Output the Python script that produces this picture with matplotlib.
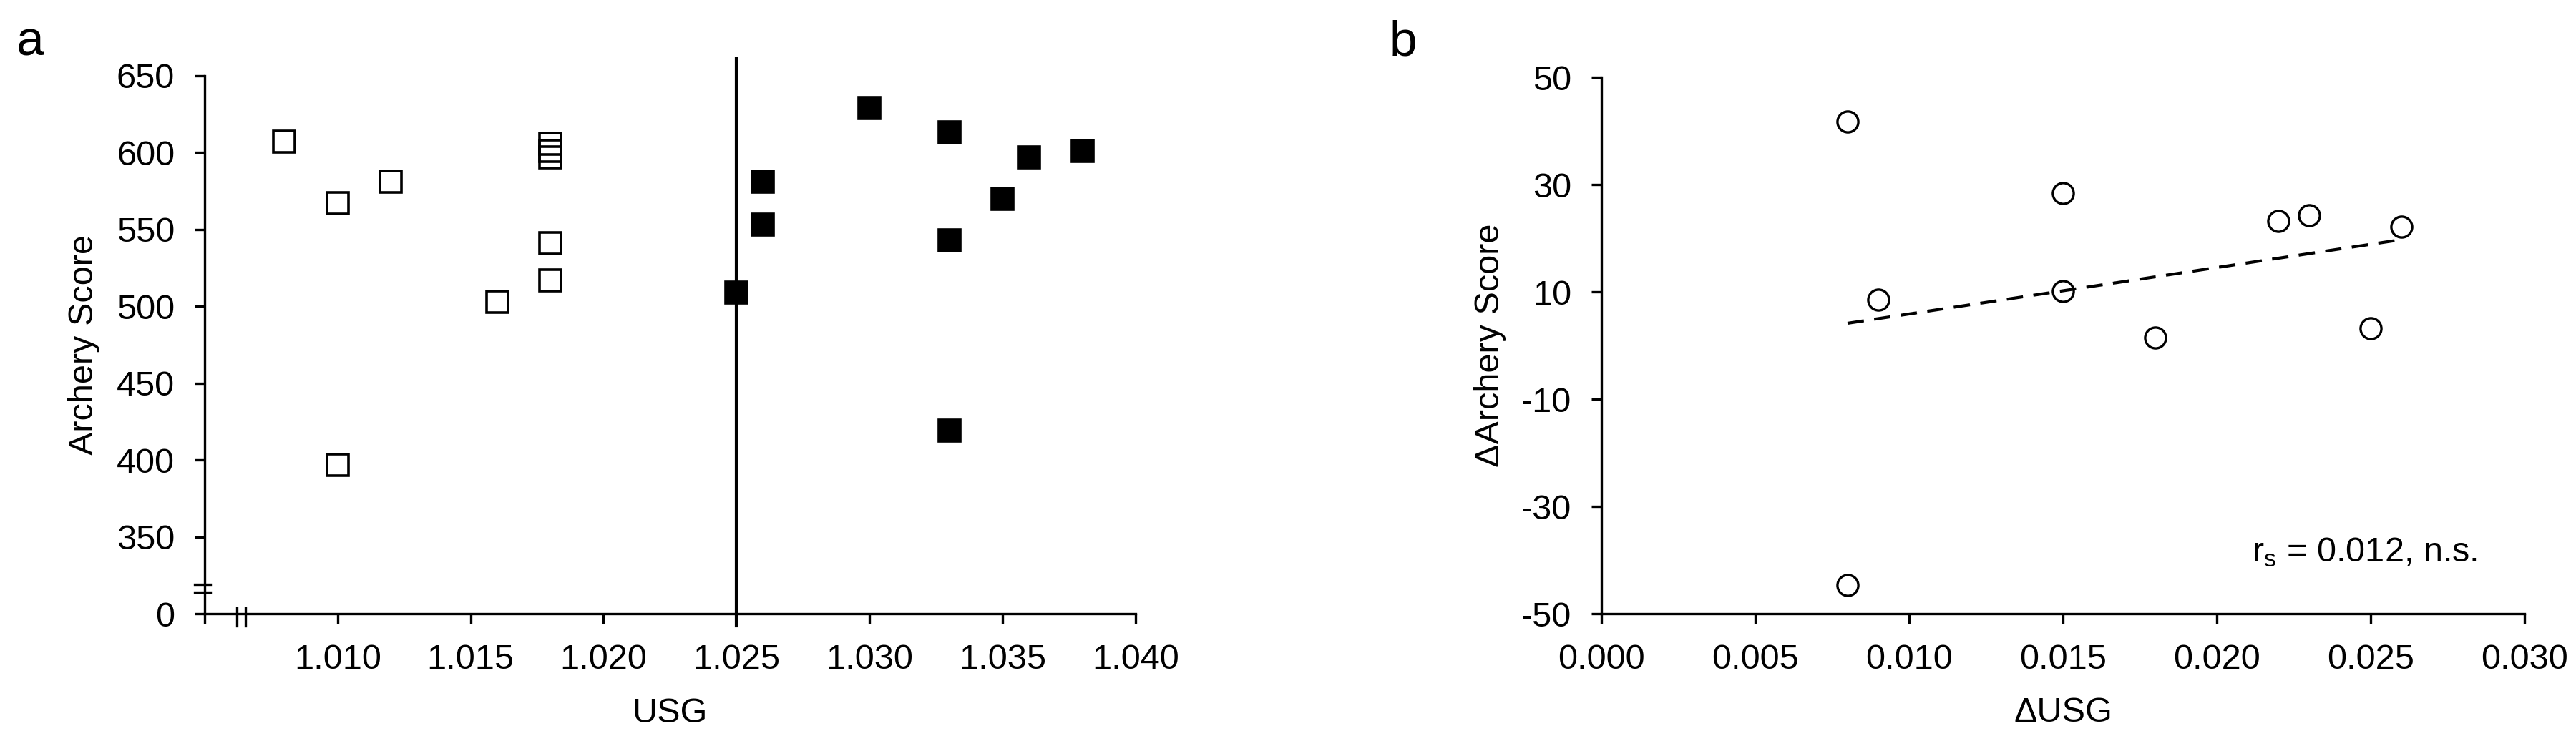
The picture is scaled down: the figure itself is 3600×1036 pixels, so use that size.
"""Two-panel figure: archery score vs USG (a) and change scores (b)."""

import matplotlib

matplotlib.use("Agg")
import matplotlib.pyplot as plt
import numpy as np

plt.rcParams["font.family"] = ["Liberation Sans", "DejaVu Sans"]
plt.rcParams["mathtext.fontset"] = "custom"
plt.rcParams["mathtext.rm"] = "Liberation Sans"

# ---- panel a data -------------------------------------------------------
usg_hydrated = [1.008, 1.010, 1.010, 1.012, 1.016, 1.018, 1.018, 1.018, 1.018, 1.018]
score_hydrated = [607, 567, 397, 581, 503, 541, 517, 606, 601, 597]
usg_dehydrated = [1.025, 1.026, 1.026, 1.030, 1.033, 1.033, 1.033, 1.035, 1.036, 1.038]
score_dehydrated = [509, 581, 553, 629, 613, 543, 419, 570, 597, 601]
usg_threshold = 1.025
usg_ticks = [1.005, 1.010, 1.015, 1.020, 1.025, 1.030, 1.035, 1.040]
usg_ticklabels = ["", "1.010", "1.015", "1.020", "1.025", "1.030", "1.035", "1.040"]
score_ticks = [300, 350, 400, 450, 500, 550, 600, 650]
score_ticklabels = ["0", "350", "400", "450", "500", "550", "600", "650"]

# ---- panel b data -------------------------------------------------------
d_usg = [0.008, 0.009, 0.015, 0.015, 0.018, 0.022, 0.023, 0.025, 0.026, 0.008]
d_score = [41.7, 8.5, 28.4, 10.1, 1.5, 23.2, 24.3, 3.2, 22.2, -44.6]
d_usg_ticks = [0.000, 0.005, 0.010, 0.015, 0.020, 0.025, 0.030]
d_usg_ticklabels = ["0.000", "0.005", "0.010", "0.015", "0.020", "0.025", "0.030"]
d_score_ticks = [-50, -30, -10, 10, 30, 50]
d_score_ticklabels = ["-50", "-30", "-10", "10", "30", "50"]
corr_text = r"$\mathregular{r_s}$ = 0.012, n.s."

FS = 35
LW = 2.4

fig = plt.figure(figsize=(36, 10.36), dpi=100)
ax_a = fig.add_axes([0.0794, 0.1718, 0.3614, 0.7259])
ax_b = fig.add_axes([0.6217, 0.1718, 0.3583, 0.7239])

for ax in (ax_a, ax_b):
    for side in ("top", "right"):
        ax.spines[side].set_visible(False)
    for side in ("left", "bottom"):
        ax.spines[side].set_linewidth(LW)
    ax.tick_params(direction="out", length=10, width=LW, labelsize=FS, pad=20, color="black")

# ---- panel a -----------------------------------------------------------
ax_a.plot(usg_hydrated, score_hydrated, ls="none", marker="s", ms=21, mew=2.6,
          mfc="none", mec="black", clip_on=False)
ax_a.plot(usg_dehydrated, score_dehydrated, ls="none", marker="s", ms=21, mew=2.6,
          mfc="black", mec="black", clip_on=False)
ax_a.plot([usg_threshold, usg_threshold], [292, 661], color="black", lw=3, clip_on=False)

ax_a.set_xlim(usg_ticks[0], usg_ticks[-1])
ax_a.set_ylim(score_ticks[0], score_ticks[-1])
ax_a.set_xticks(usg_ticks)
ax_a.set_xticklabels(usg_ticklabels)
ax_a.set_yticks(score_ticks)
ax_a.set_yticklabels(score_ticklabels)
ax_a.set_xlabel("USG", fontsize=FS)
ax_a.set_ylabel("Archery Score", fontsize=FS)
ax_a.xaxis.set_label_coords(0.5, -0.155)
ax_a.yaxis.set_label_coords(-0.112, 0.5)

# axis break marks
ytr = ax_a.get_yaxis_transform()
for yb in (314, 319):
    ax_a.plot([-0.0108, 0.0061], [yb, yb], color="black", lw=2.4, transform=ytr, clip_on=False)
xtr = ax_a.get_xaxis_transform()
for xb in (1.00621, 1.00653):
    ax_a.plot([xb, xb], [0.0106, -0.0226], color="black", lw=2.4, transform=xtr, clip_on=False)

# ---- panel b -----------------------------------------------------------
ax_b.plot(d_usg, d_score, ls="none", marker="o", ms=21, mew=2.4,
          mfc="none", mec="black", clip_on=False)
slope, intercept = np.polyfit(d_usg, d_score, 1)
fit_x = np.array([min(d_usg), max(d_usg)])
ax_b.plot(fit_x, slope * fit_x + intercept, color="black", lw=3, dashes=(5.5, 3.5))

ax_b.set_xlim(d_usg_ticks[0], d_usg_ticks[-1])
ax_b.set_ylim(d_score_ticks[0], d_score_ticks[-1])
ax_b.set_xticks(d_usg_ticks)
ax_b.set_xticklabels(d_usg_ticklabels)
ax_b.set_yticks(d_score_ticks)
ax_b.set_yticklabels(d_score_ticklabels)
ax_b.set_xlabel("\u0394USG", fontsize=FS)
ax_b.set_ylabel("\u0394Archery Score", fontsize=FS)
ax_b.xaxis.set_label_coords(0.5, -0.155)
ax_b.yaxis.set_label_coords(-0.103, 0.5)
ax_b.text(0.705, 0.097, corr_text, transform=ax_b.transAxes, fontsize=FS, va="baseline")

fig.text(23 / 3600, 1 - 78 / 1036, "a", fontsize=50, va="baseline")
fig.text(1942 / 3600, 1 - 78 / 1036, "b", fontsize=50, va="baseline")

fig.savefig("out.png", dpi=100)
